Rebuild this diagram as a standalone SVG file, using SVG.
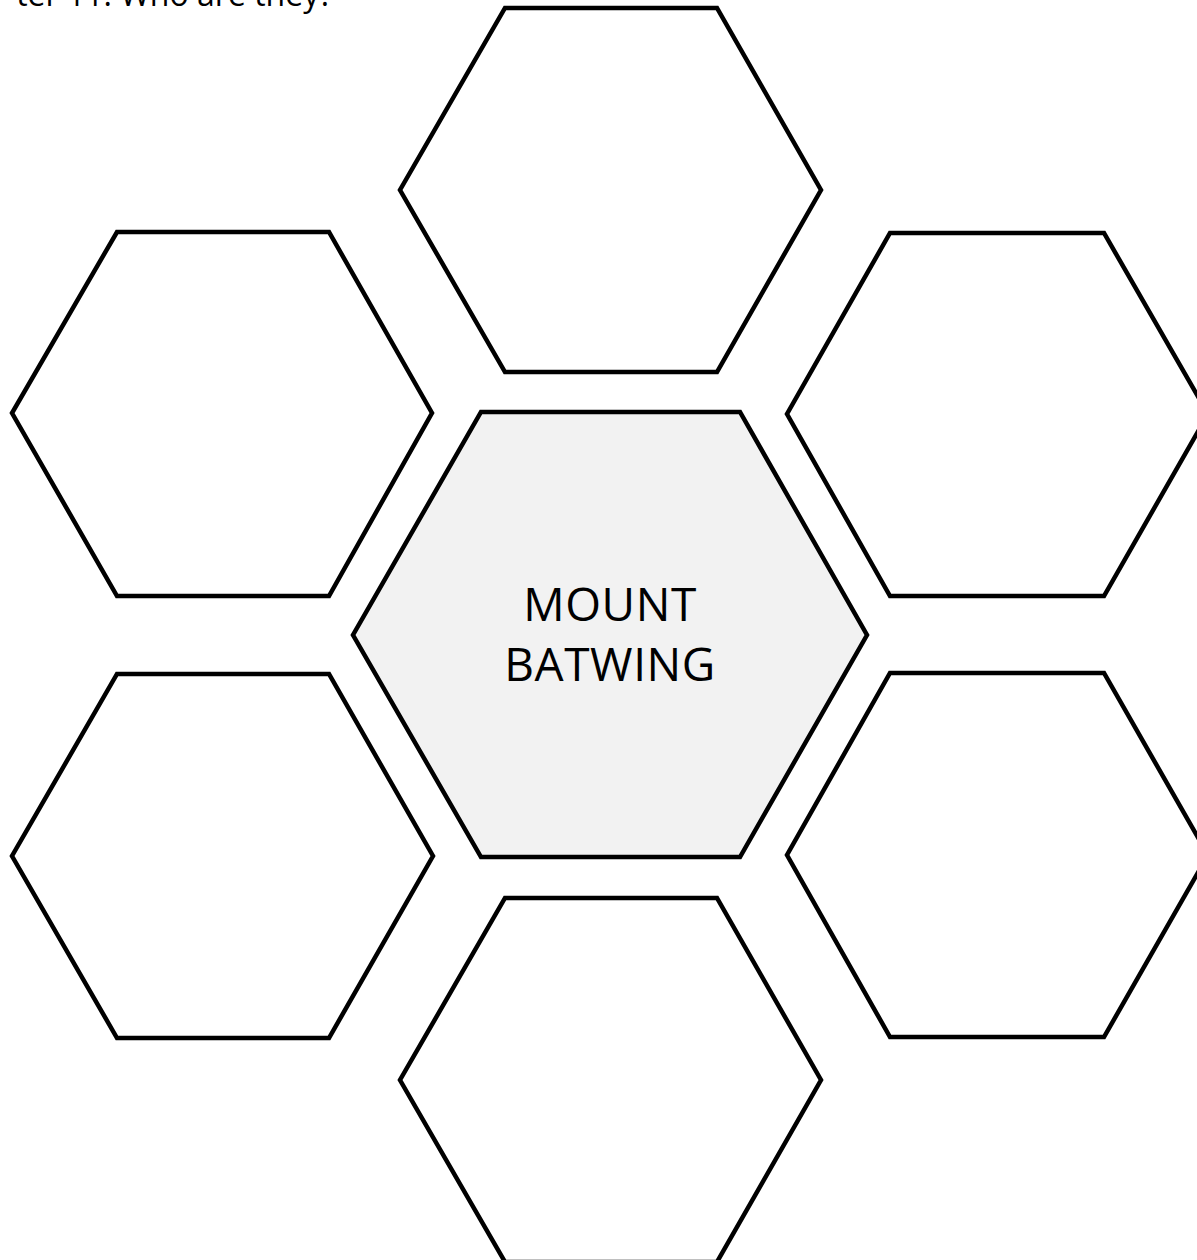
<svg xmlns="http://www.w3.org/2000/svg" width="1197" height="1260" viewBox="0 0 1197 1260">
<style>
.hex{fill:#ffffff;stroke:#000000;stroke-width:4.5;stroke-linejoin:miter}
.center{fill:#f2f2f2}
.lbl{font-family:"Open Sans","Liberation Sans",sans-serif;font-size:46px;letter-spacing:0.6px;fill:#000;text-anchor:middle}
.top{font-family:"Open Sans","Liberation Sans",sans-serif;font-size:32px;fill:#000;text-anchor:end}
</style>
<rect width="1197" height="1260" fill="#ffffff"/>
<text class="top" x="333" y="6">ter 11. Who are they?</text>
<g id="connectors"></g>
<g id="hex-top"><polygon class="hex" points="505,8 717,8 821,190 717,372 505,372 400,190"/></g>
<g id="hex-top-left"><polygon class="hex" points="117,232 329,232 432,413 329,596 117,596 12,413"/></g>
<g id="hex-top-right"><polygon class="hex" points="890,233 1104,233 1208,414 1104,596 890,596 787,414"/></g>
<g id="hex-bottom-left"><polygon class="hex" points="117,674 329,674 433,856 329,1038 117,1038 12,856"/></g>
<g id="hex-bottom-right"><polygon class="hex" points="890,673 1104,673 1208,855 1104,1037 890,1037 787,855"/></g>
<g id="hex-bottom"><polygon class="hex" points="505,898 717,898 821,1080 717,1262 505,1262 400,1080"/></g>
<g id="hex-center">
<polygon class="hex center" points="481,412 740,412 867,635 740,857 481,857 353,635"/>
<text class="lbl" x="610" y="621">MOUNT</text>
<text class="lbl" x="610" y="681">BATWING</text>
</g>
</svg>
